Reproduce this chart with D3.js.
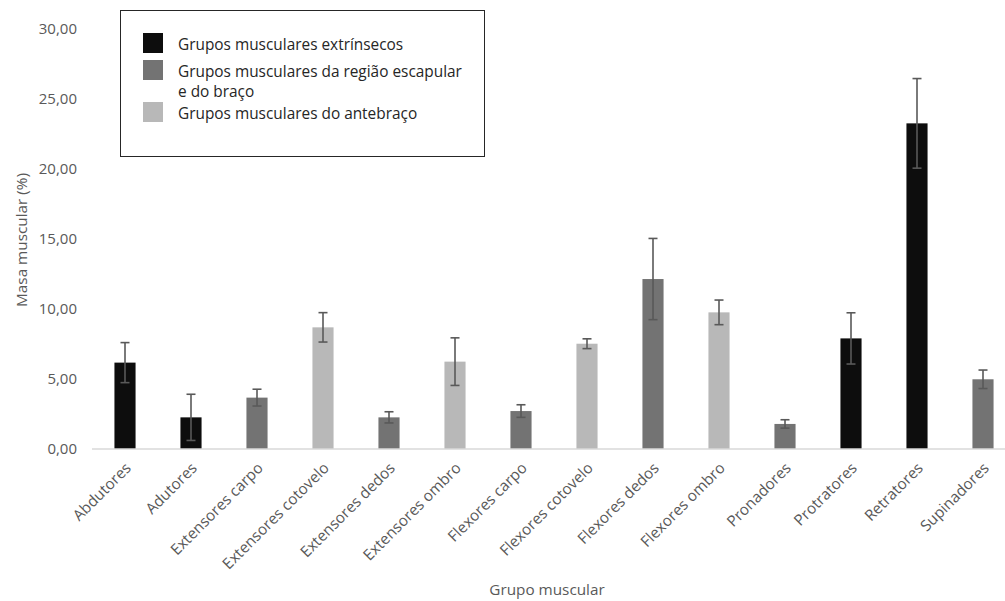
<!DOCTYPE html>
<html>
<head>
<meta charset="utf-8">
<script src="https://cdn.jsdelivr.net/npm/d3@7"></script>
<style>
  body { margin: 0; background: #fff; }
  svg { display: block; }
  text { font-family: "Open Sans", "Noto Sans", sans-serif; fill: #595959; }
</style>
</head>
<body>
<svg id="chart" width="1005" height="601"></svg>
<script>
// Muscle groups, mean share of muscle mass (%) and standard deviation
const categories = [
  "Abdutores", "Adutores", "Extensores carpo", "Extensores cotovelo",
  "Extensores dedos", "Extensores ombro", "Flexores carpo", "Flexores cotovelo",
  "Flexores dedos", "Flexores ombro", "Pronadores", "Protratores",
  "Retratores", "Supinadores"
];
const means = [6.17, 2.26, 3.67, 8.69, 2.26, 6.24, 2.71, 7.52, 12.14, 9.76, 1.79, 7.90, 23.26, 4.98];
const errors = [1.43, 1.65, 0.60, 1.05, 0.40, 1.70, 0.45, 0.35, 2.90, 0.88, 0.30, 1.83, 3.20, 0.66];
// group index: 0 extrinsic, 1 scapular region and arm, 2 forearm
const groups = [0, 0, 1, 2, 1, 2, 1, 2, 1, 2, 1, 0, 0, 1];
const groupNames = [
  ["Grupos musculares extrínsecos"],
  ["Grupos musculares da região escapular", "e do braço"],
  ["Grupos musculares do antebraço"]
];
const yTicks = [0, 5, 10, 15, 20, 25, 30];

const colors = ["#0d0d0d", "#737373", "#b8b8b8"];

const svg = d3.select("#chart");

const x = d3.scaleBand().domain(categories).range([92, 1016]).paddingInner(0.68).paddingOuter(0.34);
const y = d3.scaleLinear().domain([0, 30]).range([449, 29]);

// y tick labels
svg.append("g").selectAll("text").data(yTicks).join("text")
  .attr("x", 77).attr("y", d => y(d)).attr("dy", "0.35em")
  .attr("text-anchor", "end").style("font-size", "15px")
  .text(d => d3.format(".2f")(d).replace(".", ","));

// bars
svg.append("g").selectAll("rect").data(categories).join("rect")
  .attr("x", d => x(d)).attr("width", x.bandwidth())
  .attr("y", (d, i) => y(means[i])).attr("height", (d, i) => y(0) - y(means[i]))
  .attr("fill", (d, i) => colors[groups[i]]);

// baseline
svg.append("line").attr("x1", 92).attr("x2", 1016).attr("y1", y(0)).attr("y2", y(0))
  .attr("stroke", "#d9d9d9").attr("stroke-width", 1.5);

// error bars
const eb = svg.append("g").attr("stroke", "#595959").attr("stroke-width", 1.6);
categories.forEach((c, i) => {
  const cx = x(c) + x.bandwidth() / 2;
  const hi = y(means[i] + errors[i]), lo = y(means[i] - errors[i]);
  eb.append("line").attr("x1", cx).attr("x2", cx).attr("y1", hi).attr("y2", lo);
  eb.append("line").attr("x1", cx - 4.5).attr("x2", cx + 4.5).attr("y1", hi).attr("y2", hi);
  eb.append("line").attr("x1", cx - 4.5).attr("x2", cx + 4.5).attr("y1", lo).attr("y2", lo);
});

// category labels
svg.append("g").selectAll("text").data(categories).join("text")
  .attr("text-anchor", "end").style("font-size", "15.3px")
  .attr("transform", d => `translate(${x(d) + x.bandwidth() / 2 + 7},${y(0) + 20}) rotate(-45)`)
  .text(d => d);

// axis titles
svg.append("text").attr("x", 547).attr("y", 595).attr("text-anchor", "middle")
  .style("font-size", "15.3px").text("Grupo muscular");
svg.append("text").attr("transform", "translate(27,240) rotate(-90)")
  .attr("text-anchor", "middle").style("font-size", "15.3px").text("Masa muscular (%)");

// legend
const lg = svg.append("g");
lg.append("rect").attr("x", 120.5).attr("y", 10.5).attr("width", 364).attr("height", 146)
  .attr("fill", "#fff").attr("stroke", "#262626").attr("stroke-width", 1);
const swY = [33, 60, 102];
groupNames.forEach((lines, i) => {
  lg.append("rect").attr("x", 143).attr("y", swY[i]).attr("width", 20).attr("height", 20)
    .attr("fill", colors[i]);
  lines.forEach((t, j) => {
    lg.append("text").attr("x", 178).attr("y", swY[i] + 17 + j * 20)
      .style("font-size", "15.4px").style("fill", "#262626").text(t);
  });
});
</script>
</body>
</html>
